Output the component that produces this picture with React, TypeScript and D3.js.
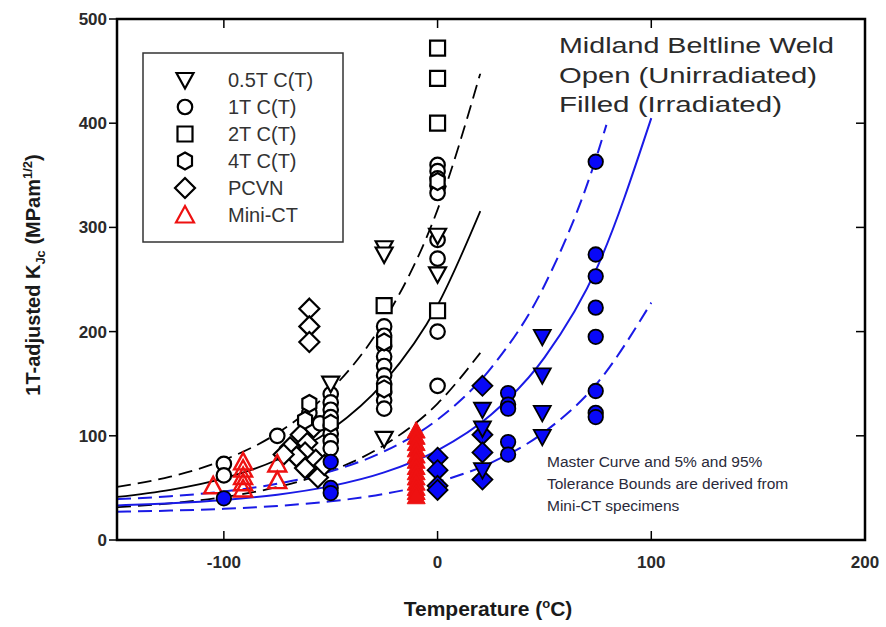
import React from "react";
import * as d3 from "d3";

// ---------- data ----------
// Unirradiated (open symbols)
const open05T: [number, number][] = [[-50, 150], [-25, 280], [-25, 274], [-25, 97], [0, 292], [0, 255]];
const open1T: [number, number][] = [
  [-100, 73], [-100, 62], [-75, 100], [-60, 122], [-55, 112],
  [-50, 140], [-50, 132], [-50, 125], [-50, 118], [-50, 110], [-50, 102], [-50, 95], [-50, 88],
  [-25, 205], [-25, 196], [-25, 186], [-25, 176], [-25, 167], [-25, 158], [-25, 150], [-25, 142], [-25, 134], [-25, 126],
  [0, 360], [0, 354], [0, 347], [0, 340], [0, 333], [0, 288], [0, 270], [0, 200], [0, 148],
];
const open2T: [number, number][] = [[-25, 225], [0, 472], [0, 443], [0, 400], [0, 220]];
const open4T: [number, number][] = [[-60, 131], [-62, 115], [-50, 112], [-25, 190], [-25, 145], [0, 344]];
const openPCVN: [number, number][] = [
  [-60, 222], [-60, 205], [-60, 190],
  [-64, 101], [-61, 93], [-69, 89], [-62, 84], [-57, 77], [-66, 80], [-62, 69], [-56, 60], [-53, 72], [-72, 82], [-58, 108],
];
const openMiniCT: [number, number][] = [[-105, 52], [-91, 75], [-91, 68], [-91, 61], [-91, 55], [-91, 49], [-75, 73], [-75, 57]];

// Irradiated (filled symbols)
const filled05T: [number, number][] = [[21, 125], [21, 107], [21, 67], [49, 195], [49, 158], [49, 122], [49, 99]];
const filled1T: [number, number][] = [
  [-100, 40], [-50, 75], [-50, 50], [-50, 45],
  [33, 141], [33, 130], [33, 126], [33, 94], [33, 82],
  [74, 363], [74, 274], [74, 253], [74, 223], [74, 195], [74, 143], [74, 122], [74, 118],
];
const filledPCVN: [number, number][] = [[0, 79], [0, 67], [0, 52], [0, 48], [21, 148], [21, 101], [21, 84], [21, 58]];
const filledMiniCT: [number, number][] = [
  [-10, 105], [-10, 99], [-10, 93], [-10, 87], [-10, 81], [-10, 76], [-10, 70], [-10, 65], [-10, 60], [-10, 55], [-10, 50], [-10, 46], [-10, 42],
];

// Master curves (K values)
const curveTempsU = [-150, -125, -100, -75, -50, -25, 0, 20];
const medianU = [41.3, 48.2, 59.2, 77.0, 105.5, 151.5, 225.3, 315.6];
const upperU = [50.9, 60.8, 76.8, 102.5, 143.8, 210.3, 317.1, 447.8];
const lowerU = [31.5, 35.2, 41.2, 50.8, 66.2, 91.0, 130.9, 179.6];

const curveTempsI = [-150, -125, -100, -75, -50, -25, 0, 25, 50, 75, 100];
const medianI = [33.2, 35.2, 38.4, 43.5, 51.7, 64.9, 86.1, 120.2, 175.0, 263.1, 404.9];
const lowerI = [27.2, 28.2, 29.9, 32.7, 37.1, 44.2, 55.7, 74.1, 103.7, 151.3, 227.8];
const upperTempsI = [-150, -125, -100, -75, -50, -25, 0, 25, 50, 75, 79];
const upperI = [39.2, 42.0, 46.6, 54.0, 65.9, 85.0, 115.6, 165.0, 244.3, 371.8, 398.4];

const xTicks = [-100, 0, 100, 200];
const yTicks = [0, 100, 200, 300, 400, 500];

const legendItems = ["0.5T C(T)", "1T C(T)", "2T C(T)", "4T C(T)", "PCVN", "Mini-CT"];

// ---------- layout ----------
const W = 886, H = 627;
const L = 117, R = 865, T = 19, B = 540;
const x = d3.scaleLinear().domain([-150, 200]).range([L, R]);
const y = d3.scaleLinear().domain([0, 500]).range([B, T]);

const BLUE = "#1a1ae6";
const FILLB = "#0808f8";
const RED = "#ee1111";
const FONT = "'Liberation Sans', Arial, sans-serif";

type Shape = "down" | "circle" | "square" | "hex" | "diamond" | "up";

function shapePath(s: Shape): string {
  switch (s) {
    case "down": return "M-8.5,-7 L8.5,-7 L0,8.5 Z";
    case "up": return "M-9,7.5 L9,7.5 L0,-9 Z";
    case "circle": return d3.symbol(d3.symbolCircle, 165)() as string;
    case "square": return "M-7.5,-7.5 L7.5,-7.5 L7.5,7.5 L-7.5,7.5 Z";
    case "hex": return "M0,-8.5 L7,-4.5 L7,4.5 L0,8.5 L-7,4.5 L-7,-4.5 Z";
    case "diamond": return "M0,-10 L10,0 L0,10 L-10,0 Z";
  }
}

function Marks({ data, shape, fill, stroke, sw = 2.2 }: { data: [number, number][]; shape: Shape; fill: string; stroke: string; sw?: number }) {
  const p = shapePath(shape);
  return (
    <g>
      {data.map((d, i) => (
        <path key={i} d={p} transform={`translate(${x(d[0])},${y(d[1])})`} fill={fill} stroke={stroke} strokeWidth={sw} />
      ))}
    </g>
  );
}

function curvePath(ts: number[], ks: number[]) {
  const line = d3.line<number>().x((_, i) => x(ts[i])).y((k) => y(k)).curve(d3.curveMonotoneX);
  return line(ks) as string;
}

export default function App() {
  return (
    <div style={{ position: "fixed", left: 0, top: 0 }}>
      <svg width={W} height={H} viewBox={`0 0 ${W} ${H}`} style={{ display: "block", background: "#fff" }}>
        <defs>
          <clipPath id="plot"><rect x={L} y={T} width={R - L} height={B - T} /></clipPath>
        </defs>
        <rect width={W} height={H} fill="#fff" />

        {/* curves */}
        <g clipPath="url(#plot)" fill="none">
          <path d={curvePath(curveTempsU, medianU)} stroke="#000" strokeWidth={1.8} />
          <path d={curvePath(curveTempsU, upperU)} stroke="#000" strokeWidth={1.8} strokeDasharray="14,7" />
          <path d={curvePath(curveTempsU, lowerU)} stroke="#000" strokeWidth={1.8} strokeDasharray="14,7" />
          <path d={curvePath(curveTempsI, medianI)} stroke={BLUE} strokeWidth={2} />
          <path d={curvePath(upperTempsI, upperI)} stroke={BLUE} strokeWidth={2} strokeDasharray="14,7" />
          <path d={curvePath(curveTempsI, lowerI)} stroke={BLUE} strokeWidth={2} strokeDasharray="14,7" />
        </g>

        {/* open markers */}
        <Marks data={openPCVN} shape="diamond" fill="#fff" stroke="#000" />
        <Marks data={open1T} shape="circle" fill="#fff" stroke="#000" />
        <Marks data={open4T} shape="hex" fill="#fff" stroke="#000" />
        <Marks data={open2T} shape="square" fill="#fff" stroke="#000" />
        <Marks data={open05T} shape="down" fill="#fff" stroke="#000" />
        <Marks data={openMiniCT} shape="up" fill="none" stroke={RED} sw={2.4} />

        {/* filled markers */}
        <Marks data={filled1T} shape="circle" fill={FILLB} stroke="#000" sw={1.8} />
        <Marks data={filledPCVN} shape="diamond" fill={FILLB} stroke="#000" sw={1.8} />
        <Marks data={filled05T} shape="down" fill={FILLB} stroke="#000" sw={1.8} />
        <Marks data={filledMiniCT} shape="up" fill={RED} stroke={RED} sw={1} />

        {/* frame */}
        <rect x={L} y={T} width={R - L} height={B - T} fill="none" stroke="#000" strokeWidth={2.5} />

        {/* ticks */}
        <g stroke="#000" strokeWidth={1.5}>
          {xTicks.map((t) => (
            <g key={"xt" + t}>
              <line x1={x(t)} x2={x(t)} y1={B} y2={B - 9} />
              <line x1={x(t)} x2={x(t)} y1={T} y2={T + 9} />
            </g>
          ))}
          {yTicks.map((t) => (
            <g key={"yt" + t}>
              <line x1={L} x2={L - 8} y1={y(t)} y2={y(t)} />
              <line x1={R} x2={R - 9} y1={y(t)} y2={y(t)} />
            </g>
          ))}
        </g>

        {/* tick labels */}
        <g fontFamily={FONT} fontWeight="bold" fontSize={17} fill="#2a2a2a">
          {xTicks.map((t) => (
            <text key={"xl" + t} x={x(t)} y={568} textAnchor="middle">{t}</text>
          ))}
          {yTicks.map((t) => (
            <text key={"yl" + t} x={107} y={y(t) + 6} textAnchor="end">{t}</text>
          ))}
        </g>

        {/* axis titles */}
        <text x={488} y={616} textAnchor="middle" fontFamily={FONT} fontWeight="bold" fontSize={21} fill="#1a1a1a">
          Temperature (<tspan dy={-8} fontSize={13}>o</tspan><tspan dy={8}>C)</tspan>
        </text>
        <text transform="translate(40,275) rotate(-90)" textAnchor="middle" fontFamily={FONT} fontWeight="bold" fontSize={20} fill="#1a1a1a">
          1T-adjusted K<tspan dy={5} fontSize={13}>Jc</tspan><tspan dy={-5}> (MPam</tspan><tspan dy={-8} fontSize={13}>1/2</tspan><tspan dy={8}>)</tspan>
        </text>

        {/* legend */}
        <rect x={143} y={53} width={200} height={189} fill="#fff" stroke="#333" strokeWidth={1.5} />
        {legendItems.map((label, i) => {
          const shapes: Shape[] = ["down", "circle", "square", "hex", "diamond", "up"];
          const cy = 80 + i * 27;
          const isRed = i === 5;
          return (
            <g key={label}>
              <path d={shapePath(shapes[i])} transform={`translate(185,${cy})`} fill={isRed ? "none" : "#fff"} stroke={isRed ? RED : "#000"} strokeWidth={2.2} />
              <text x={228} y={cy + 7} fontFamily={FONT} fontSize={20} fill="#333">{label}</text>
            </g>
          );
        })}

        {/* annotations */}
        <g fontFamily={FONT} fontSize={22} fill="#2a2a2a" lengthAdjust="spacingAndGlyphs">
          <text x={559} y={53} textLength={275} lengthAdjust="spacingAndGlyphs">Midland Beltline Weld</text>
          <text x={559} y={83} textLength={258} lengthAdjust="spacingAndGlyphs">Open (Unirradiated)</text>
          <text x={559} y={112} textLength={223} lengthAdjust="spacingAndGlyphs">Filled (Irradiated)</text>
        </g>
        <g fontFamily={FONT} fontSize={15.5} fill="#2a2a3a">
          <text x={547} y={467}>Master Curve and 5% and 95%</text>
          <text x={547} y={489}>Tolerance Bounds are derived from</text>
          <text x={547} y={511}>Mini-CT specimens</text>
        </g>
      </svg>
    </div>
  );
}
